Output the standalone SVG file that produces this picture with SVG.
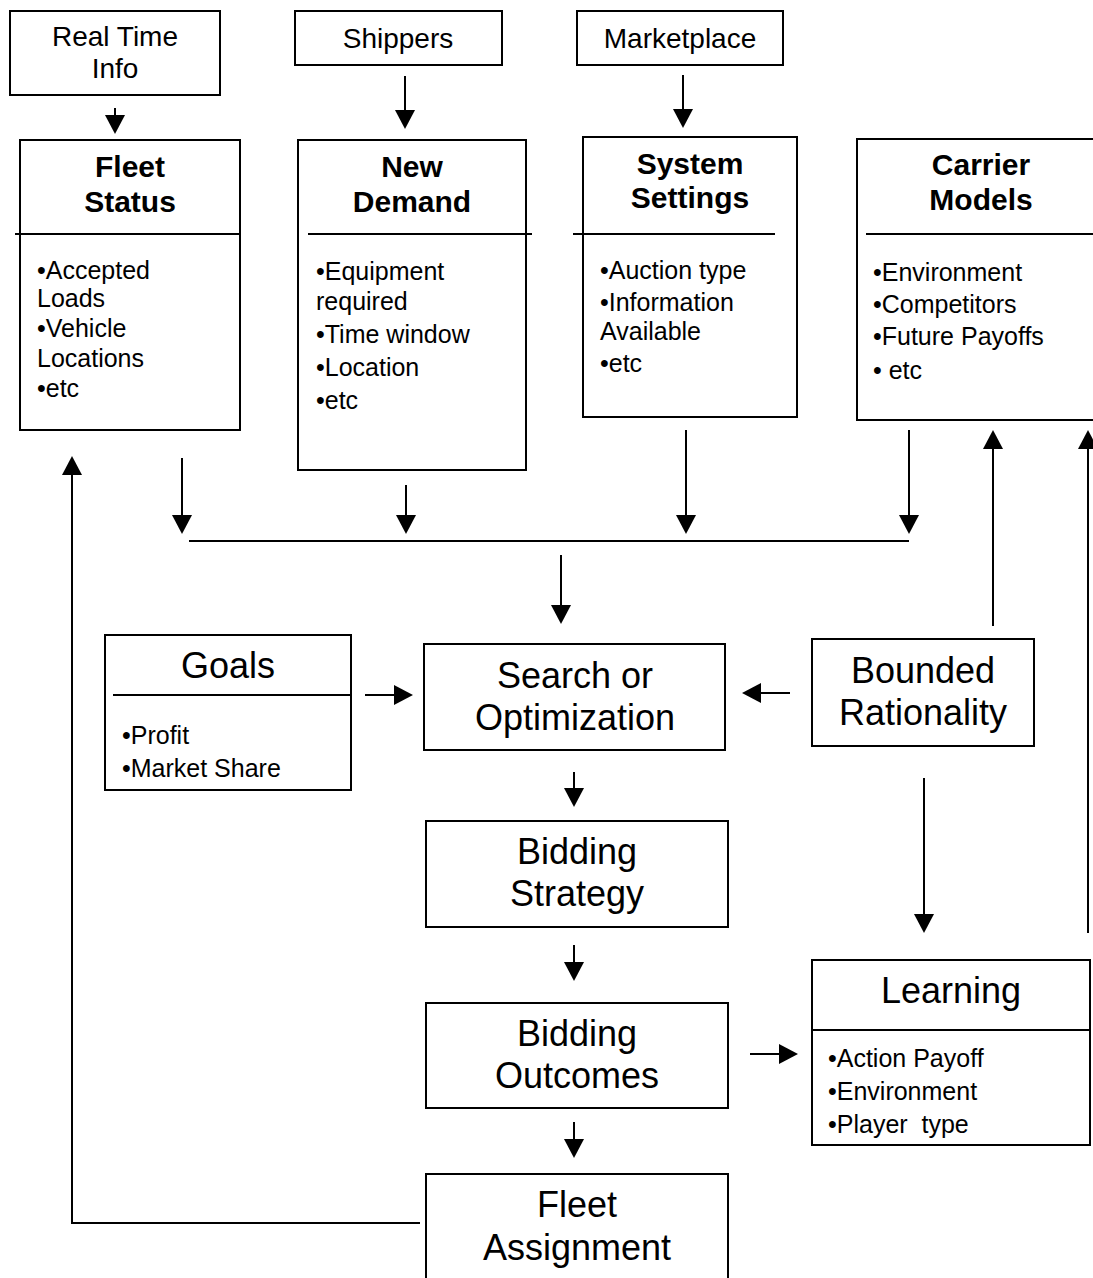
<svg xmlns="http://www.w3.org/2000/svg" width="1093" height="1278" viewBox="0 0 1093 1278">
<style>
.box{fill:#fff;stroke:#000;stroke-width:2}
.sep{stroke:#000;stroke-width:2}
.t{font-family:"Liberation Sans",Arial,sans-serif;fill:#000}
.top{font-size:28px;text-anchor:middle}
.ttl{font-size:30px;font-weight:bold;text-anchor:middle}
.big{font-size:36px;text-anchor:middle}
.bul{font-size:25px}
.c{fill:none;stroke:#000;stroke-width:2}
</style>
<defs>
<marker id="ah" markerUnits="userSpaceOnUse" markerWidth="20" markerHeight="20" refX="16" refY="10" orient="auto">
<path d="M0,0 L19,10 L0,20 z" fill="#000"/>
</marker>
</defs>
<rect width="1093" height="1278" fill="#fff"/>

<g id="real-time-info">
<rect class="box" x="10" y="11" width="210" height="84"/>
<text class="t top" x="115" y="46">Real Time</text>
<text class="t top" x="115" y="78">Info</text>
</g>
<g id="shippers">
<rect class="box" x="295" y="11" width="207" height="54"/>
<text class="t top" x="398" y="48">Shippers</text>
</g>
<g id="marketplace">
<rect class="box" x="577" y="11" width="206" height="54"/>
<text class="t top" x="680" y="48">Marketplace</text>
</g>

<g id="fleet-status">
<rect class="box" x="20" y="140" width="220" height="290"/>
<line class="sep" x1="15" y1="234" x2="240" y2="234"/>
<text class="t ttl" x="130" y="177">Fleet</text>
<text class="t ttl" x="130" y="212">Status</text>
<text class="t bul" x="37" y="279">•Accepted</text>
<text class="t bul" x="37" y="307">Loads</text>
<text class="t bul" x="37" y="337">•Vehicle</text>
<text class="t bul" x="37" y="367">Locations</text>
<text class="t bul" x="37" y="397">•etc</text>
</g>
<g id="new-demand">
<rect class="box" x="298" y="140" width="228" height="330"/>
<line class="sep" x1="308" y1="234" x2="532" y2="234"/>
<text class="t ttl" x="412" y="177">New</text>
<text class="t ttl" x="412" y="212">Demand</text>
<text class="t bul" x="316" y="280">•Equipment</text>
<text class="t bul" x="316" y="310">required</text>
<text class="t bul" x="316" y="343">•Time window</text>
<text class="t bul" x="316" y="376">•Location</text>
<text class="t bul" x="316" y="409">•etc</text>
</g>
<g id="system-settings">
<rect class="box" x="583" y="137" width="214" height="280"/>
<line class="sep" x1="573" y1="234" x2="775" y2="234"/>
<text class="t ttl" x="690" y="174">System</text>
<text class="t ttl" x="690" y="208">Settings</text>
<text class="t bul" x="600" y="279">•Auction type</text>
<text class="t bul" x="600" y="311">•Information</text>
<text class="t bul" x="600" y="340">Available</text>
<text class="t bul" x="600" y="372">•etc</text>
</g>
<g id="carrier-models">
<rect class="box" x="857" y="139" width="250" height="281"/>
<line class="sep" x1="866" y1="234" x2="1093" y2="234"/>
<text class="t ttl" x="981" y="175">Carrier</text>
<text class="t ttl" x="981" y="210">Models</text>
<text class="t bul" x="873" y="281">•Environment</text>
<text class="t bul" x="873" y="313">•Competitors</text>
<text class="t bul" x="873" y="345">•Future Payoffs</text>
<text class="t bul" x="873" y="379">• etc</text>
</g>

<g id="goals">
<rect class="box" x="105" y="635" width="246" height="155"/>
<line class="sep" x1="113" y1="695" x2="351" y2="695"/>
<text class="t big" x="228" y="678">Goals</text>
<text class="t bul" x="122" y="744">•Profit</text>
<text class="t bul" x="122" y="777">•Market Share</text>
</g>
<g id="search-optimization">
<rect class="box" x="424" y="644" width="301" height="106"/>
<text class="t big" x="575" y="688">Search or</text>
<text class="t big" x="575" y="730">Optimization</text>
</g>
<g id="bounded-rationality">
<rect class="box" x="812" y="639" width="222" height="107"/>
<text class="t big" x="923" y="683">Bounded</text>
<text class="t big" x="923" y="725">Rationality</text>
</g>
<g id="bidding-strategy">
<rect class="box" x="426" y="821" width="302" height="106"/>
<text class="t big" x="577" y="864">Bidding</text>
<text class="t big" x="577" y="906">Strategy</text>
</g>
<g id="bidding-outcomes">
<rect class="box" x="426" y="1003" width="302" height="105"/>
<text class="t big" x="577" y="1046">Bidding</text>
<text class="t big" x="577" y="1088">Outcomes</text>
</g>
<g id="learning">
<rect class="box" x="812" y="960" width="278" height="185"/>
<line class="sep" x1="812" y1="1030" x2="1090" y2="1030"/>
<text class="t big" x="951" y="1003">Learning</text>
<text class="t bul" x="828" y="1067">•Action Payoff</text>
<text class="t bul" x="828" y="1100">•Environment</text>
<text class="t bul" x="828" y="1133">•Player&#160; type</text>
</g>
<g id="fleet-assignment">
<rect class="box" x="426" y="1174" width="302" height="120"/>
<text class="t big" x="577" y="1217">Fleet</text>
<text class="t big" x="577" y="1260">Assignment</text>
</g>

<g id="connectors">
<line class="c" x1="115" y1="108" x2="115" y2="131" marker-end="url(#ah)"/>
<line class="c" x1="405" y1="76" x2="405" y2="126" marker-end="url(#ah)"/>
<line class="c" x1="683" y1="75" x2="683" y2="125" marker-end="url(#ah)"/>
<line class="c" x1="182" y1="458" x2="182" y2="531" marker-end="url(#ah)"/>
<line class="c" x1="406" y1="485" x2="406" y2="531" marker-end="url(#ah)"/>
<line class="c" x1="686" y1="430" x2="686" y2="531" marker-end="url(#ah)"/>
<line class="c" x1="909" y1="430" x2="909" y2="531" marker-end="url(#ah)"/>
<line class="c" x1="189" y1="541" x2="909" y2="541"/>
<line class="c" x1="561" y1="555" x2="561" y2="621" marker-end="url(#ah)"/>
<line class="c" x1="365" y1="695" x2="410" y2="695" marker-end="url(#ah)"/>
<line class="c" x1="790" y1="693" x2="745" y2="693" marker-end="url(#ah)"/>
<line class="c" x1="993" y1="626" x2="993" y2="433" marker-end="url(#ah)"/>
<line class="c" x1="1088" y1="933" x2="1088" y2="433" marker-end="url(#ah)"/>
<line class="c" x1="924" y1="778" x2="924" y2="930" marker-end="url(#ah)"/>
<line class="c" x1="574" y1="772" x2="574" y2="804" marker-end="url(#ah)"/>
<line class="c" x1="574" y1="945" x2="574" y2="978" marker-end="url(#ah)"/>
<line class="c" x1="750" y1="1054" x2="795" y2="1054" marker-end="url(#ah)"/>
<line class="c" x1="574" y1="1122" x2="574" y2="1155" marker-end="url(#ah)"/>
<polyline class="c" points="420,1223 72,1223 72,459" marker-end="url(#ah)"/>
</g>
</svg>
